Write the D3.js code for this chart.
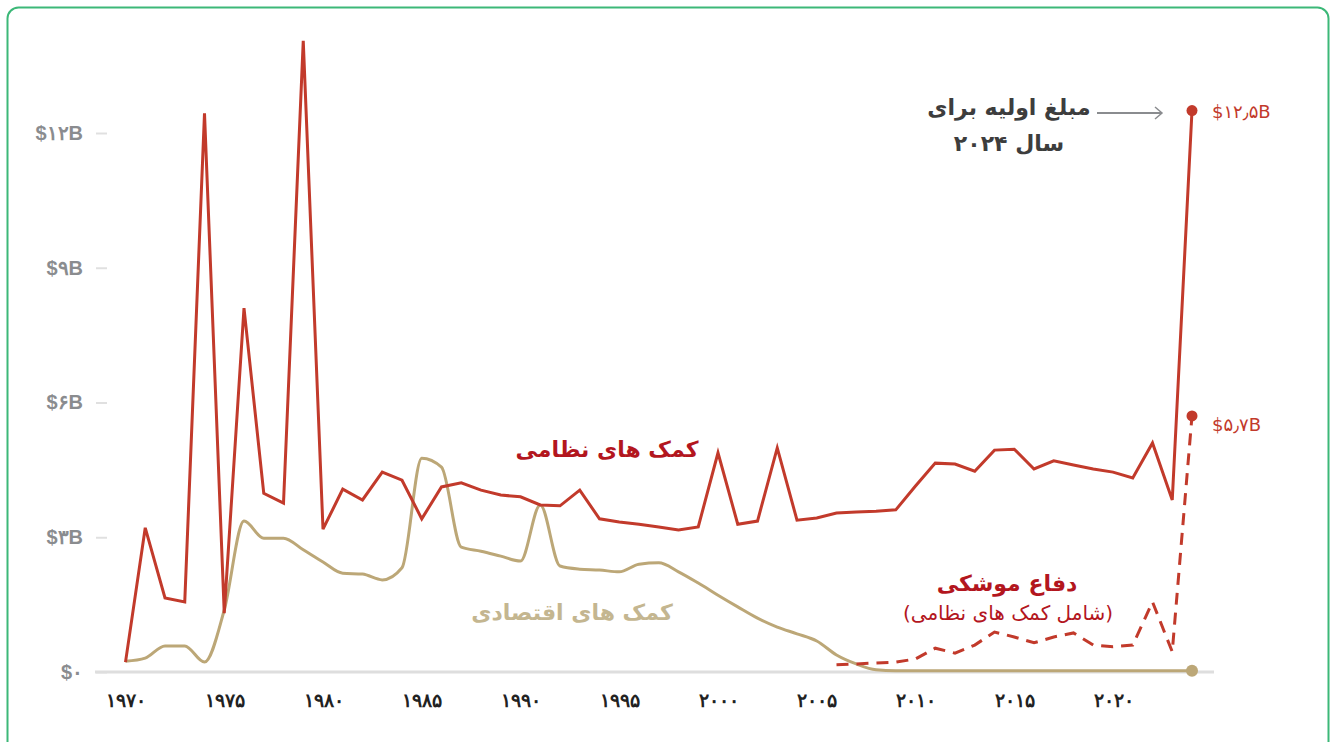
<!DOCTYPE html>
<html lang="fa">
<head>
<meta charset="utf-8">
<script src="https://cdn.jsdelivr.net/npm/d3@7"></script>
<style>
  html, body { margin: 0; padding: 0; background: #fff; }
  svg { display: block; font-family: "DejaVu Sans", sans-serif; }
</style>
</head>
<body>
<svg id="chart" width="1332" height="742"></svg>
<script>
// Années et séries (milliards de dollars)
const years = d3.range(1970, 2025);

const military = [
  0.22, 3.21, 1.65, 1.56, 12.44, 1.31, 8.1, 3.98, 3.76, 14.05,
  3.18, 4.07, 3.83, 4.45, 4.27, 3.41, 4.12, 4.21, 4.05, 3.94,
  3.9, 3.72, 3.7, 4.05, 3.41, 3.34, 3.29, 3.23, 3.16, 3.23,
  4.88, 3.29, 3.36, 4.99, 3.38, 3.43, 3.54, 3.56, 3.58, 3.61,
  4.14, 4.65, 4.63, 4.47, 4.94, 4.96, 4.52, 4.7, 4.61, 4.52,
  4.45, 4.32, 5.1, 3.83, 12.5
];

const economic = [
  0.24, 0.31, 0.58, 0.58, 0.22, 1.38, 3.36, 2.98, 2.98, 2.72,
  2.45, 2.2, 2.18, 2.05, 2.32, 4.76, 4.56, 2.78, 2.69, 2.58,
  2.47, 3.72, 2.36, 2.29, 2.27, 2.23, 2.4, 2.43, 2.23, 1.98,
  1.71, 1.45, 1.2, 1.0, 0.85, 0.69, 0.38, 0.18, 0.05, 0.03,
  0.03, 0.03, 0.03, 0.03, 0.03, 0.03, 0.03, 0.03, 0.03, 0.03,
  0.03, 0.03, 0.03, 0.03, 0.03
];

const missileYears = d3.range(2006, 2025);
const missile = [
  0.16, 0.18, 0.2, 0.22, 0.29, 0.53, 0.42, 0.6, 0.89, 0.78,
  0.65, 0.78, 0.87, 0.6, 0.56, 0.6, 1.56, 0.45, 5.7
];

const yTicks = [0, 3, 6, 9, 12];
const xTicks = [1970, 1975, 1980, 1985, 1990, 1995, 2000, 2005, 2010, 2015, 2020];

const labelMilitary = "کمک های نظامی";
const labelEconomic = "کمک های اقتصادی";
const labelMissile = "دفاع موشکی";
const labelMissileSub = "(شامل کمک های نظامی)";
const noteLines = ["مبلغ اولیه برای", "سال ۲۰۲۴"];
const endMilitary = "$۱۲٫۵B";
const endMissile = "$۵٫۷B";

// Couleurs
const RED = "#c23a2b";
const TAN = "#bca777";

// Chiffres persans
const fa = s => String(s).replace(/\d/g, d => "۰۱۲۳۴۵۶۷۸۹"[d]);

const svg = d3.select("#chart");

// Cadre vert arrondi
svg.append("rect")
  .attr("x", 7.5).attr("y", 7.5)
  .attr("width", 1321).attr("height", 760)
  .attr("rx", 11)
  .attr("fill", "none")
  .attr("stroke", "#3cb878")
  .attr("stroke-width", 2);

const x = d3.scaleLinear().domain([1970, 2024]).range([125.5, 1192]);
const y = d3.scaleLinear().domain([0, 12]).range([672, 133]);

// Axe vertical
const yAxis = svg.append("g")
  .attr("transform", "translate(107,0)")
  .call(d3.axisLeft(y)
    .tickValues(yTicks)
    .tickSize(11)
    .tickPadding(13)
    .tickFormat(d => d === 0 ? "$" + fa(0) : "$" + fa(d) + "B"));
yAxis.select(".domain").remove();
yAxis.selectAll("line").attr("stroke", "#e0e0e0").attr("stroke-width", 2);
yAxis.selectAll("text")
  .attr("fill", "#8a8c8f")
  .attr("font-size", 20)
  .attr("font-weight", "bold");

// Ligne de base
svg.append("line")
  .attr("x1", 95).attr("x2", 1214)
  .attr("y1", y(0)).attr("y2", y(0))
  .attr("stroke", "#dedede")
  .attr("stroke-width", 3);

// Axe horizontal
const xAxis = svg.append("g")
  .attr("transform", `translate(0,${y(0)})`)
  .call(d3.axisBottom(x)
    .tickValues(xTicks)
    .tickSize(0)
    .tickPadding(22)
    .tickFormat(d => fa(d)));
xAxis.select(".domain").remove();
xAxis.selectAll("text")
  .attr("fill", "#222")
  .attr("font-size", 19)
  .attr("font-weight", "bold");

// Courbes
const line = d3.line()
  .x(d => x(d[0]))
  .y(d => y(d[1]));

svg.append("path")
  .datum(years.map((yr, i) => [yr, economic[i]]))
  .attr("fill", "none")
  .attr("stroke", TAN)
  .attr("stroke-width", 3)
  .attr("stroke-linejoin", "round")
  .attr("d", line.curve(d3.curveMonotoneX));

svg.append("path")
  .datum(missileYears.map((yr, i) => [yr, missile[i]]))
  .attr("fill", "none")
  .attr("stroke", RED)
  .attr("stroke-width", 3)
  .attr("stroke-dasharray", "12,8")
  .attr("d", line.curve(d3.curveLinear));

svg.append("path")
  .datum(years.map((yr, i) => [yr, military[i]]))
  .attr("fill", "none")
  .attr("stroke", RED)
  .attr("stroke-width", 3)
  .attr("stroke-linejoin", "miter")
  .attr("d", line.curve(d3.curveLinear));

// Points de fin
const last = years.length - 1;
svg.append("circle")
  .attr("cx", x(2024)).attr("cy", y(economic[last]))
  .attr("r", 6).attr("fill", TAN);
svg.append("circle")
  .attr("cx", x(2024)).attr("cy", y(military[last]))
  .attr("r", 5.5).attr("fill", RED);
svg.append("circle")
  .attr("cx", x(2024)).attr("cy", y(missile[missile.length - 1]))
  .attr("r", 5.5).attr("fill", RED);

// Valeurs de fin
svg.append("text")
  .attr("x", x(2024) + 20).attr("y", y(military[last]) + 7)
  .attr("fill", RED).attr("font-size", 18)
  .text(endMilitary);
svg.append("text")
  .attr("x", x(2024) + 20).attr("y", y(missile[missile.length - 1]) + 15)
  .attr("fill", RED).attr("font-size", 18)
  .text(endMissile);

// Étiquettes des séries
const label = (txt, cx, cy, color, size, weight) =>
  svg.append("text")
    .attr("x", cx).attr("y", cy)
    .attr("text-anchor", "middle")
    .attr("direction", "rtl")
    .attr("fill", color)
    .attr("font-size", size)
    .attr("font-weight", weight)
    .text(txt);

label(labelMilitary, 607, 457, "#b3161e", 22, "bold");
label(labelEconomic, 572, 620, "#c4b690", 22, "bold");
label(labelMissile, 1007, 591, "#b3161e", 22, "bold");
label(labelMissileSub, 1008, 620, "#b3161e", 20, "normal");

// Annotation 2024
noteLines.forEach((t, i) => label(t, 1009, 115 + i * 36, "#3d3d3d", 22, "bold"));

svg.append("line")
  .attr("x1", 1097).attr("x2", 1162)
  .attr("y1", 113).attr("y2", 113)
  .attr("stroke", "#8a8c8f").attr("stroke-width", 2);
svg.append("path")
  .attr("d", "M1155,107 L1162,113 L1155,119")
  .attr("fill", "none")
  .attr("stroke", "#8a8c8f").attr("stroke-width", 1.5);
</script>
</body>
</html>
